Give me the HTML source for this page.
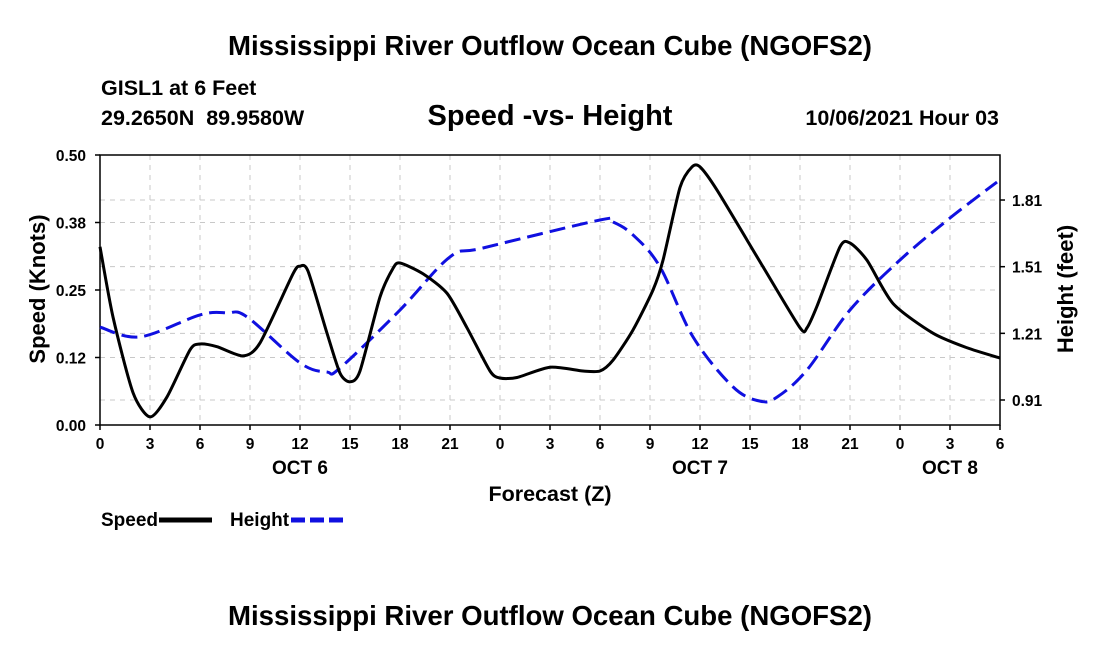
<!DOCTYPE html>
<html><head><meta charset="utf-8">
<style>
body{margin:0;background:#fff;width:1100px;height:650px;overflow:hidden;font-family:"Liberation Sans",sans-serif;}
svg text{font-family:"Liberation Sans",sans-serif;fill:#000;}
</style></head><body>
<svg id="chart" width="1100" height="650" viewBox="0 0 1100 650" xmlns="http://www.w3.org/2000/svg">
<text x="550" y="55" text-anchor="middle" font-size="27.6" font-weight="bold">Mississippi River Outflow Ocean Cube (NGOFS2)</text>
<text x="101" y="95" font-size="21.5" font-weight="bold">GISL1 at 6 Feet</text>
<text x="101" y="125" font-size="21.5" font-weight="bold" xml:space="preserve">29.2650N  89.9580W</text>
<text x="550" y="125" text-anchor="middle" font-size="29" font-weight="bold">Speed -vs- Height</text>
<text x="999" y="125" text-anchor="end" font-size="21.5" font-weight="bold">10/06/2021 Hour 03</text>
<g id="grid"></g>
<g id="axes"></g>
<g id="series"></g>
<text x="550" y="501" text-anchor="middle" font-size="21.5" font-weight="bold">Forecast (Z)</text>
<text transform="translate(45,289) rotate(-90)" text-anchor="middle" font-size="22" font-weight="bold">Speed (Knots)</text>
<text transform="translate(1073,289) rotate(-90)" text-anchor="middle" font-size="22" font-weight="bold">Height (feet)</text>
<g>
<text x="101" y="526" font-size="19" font-weight="bold">Speed</text>
<line x1="159" y1="520" x2="212" y2="520" stroke="#000" stroke-width="5"/>
<text x="230" y="526" font-size="19" font-weight="bold">Height</text>
<line x1="291" y1="520" x2="344" y2="520" stroke="#1010e0" stroke-width="5" stroke-dasharray="14,5"/>
</g>
<text x="550" y="625" text-anchor="middle" font-size="27.6" font-weight="bold">Mississippi River Outflow Ocean Cube (NGOFS2)</text>
</svg>
<script>
const xTickLabels=["0","3","6","9","12","15","18","21","0","3","6","9","12","15","18","21","0","3","6"];
const dayLabels=["OCT 6","OCT 7","OCT 8"];
const dayLabelHours=[12,36,51];
const speedTicks=[0,0.125,0.25,0.375,0.5];
const speedTickLabels=["0.00","0.12","0.25","0.38","0.50"];
const heightTicks=[0.91,1.21,1.51,1.81];
const heightTickLabels=["0.91","1.21","1.51","1.81"];
const speedHours=[0,0.78,1.98,3,4.02,5.4,6,7.02,8.58,9.6,11.58,12,12.48,13.62,14.4,15,15.6,16.8,17.58,18,19.38,20.82,22.02,23.4,24,25.02,27,28.98,30,30.78,31.98,33.18,33.78,34.8,35.52,36,37.02,39.78,42,42.42,43.02,44.4,45,46.02,47.58,49.98,52.02,54];
const speedValues=[0.33,0.2,0.06,0.015,0.052,0.139,0.15,0.145,0.128,0.152,0.28,0.294,0.285,0.17,0.096,0.08,0.10,0.237,0.29,0.30,0.28,0.244,0.18,0.10,0.087,0.088,0.107,0.1,0.10,0.12,0.176,0.25,0.305,0.44,0.478,0.478,0.435,0.293,0.18,0.18,0.22,0.33,0.337,0.305,0.225,0.17,0.143,0.124];
const heightHours=[0,2.4,6,7.62,8.82,12,13.62,14.4,18,21,22.98,30,30.78,31.98,33.6,35.58,37.98,39.6,40.62,42.42,45,48,51,53.82];
const heightValues=[1.238,1.194,1.293,1.302,1.284,1.077,1.036,1.054,1.315,1.554,1.594,1.720,1.711,1.653,1.509,1.194,0.969,0.905,0.923,1.045,1.315,1.54,1.729,1.891];

const L=100,R=1000,T=155,B=425;
const xs=h=>L+h*(R-L)/54;
const ys=v=>B-v/0.5*(B-T);
const yh=f=>400-(f-0.91)*222.2;
const NS="http://www.w3.org/2000/svg";
function mk(tag,attrs,parent){const e=document.createElementNS(NS,tag);for(const k in attrs)e.setAttribute(k,attrs[k]);parent.appendChild(e);return e;}
const grid=document.getElementById('grid'),axes=document.getElementById('axes'),series=document.getElementById('series');

xTickLabels.forEach((lab,i)=>{const x=xs(i*3);
 if(i>0&&i<xTickLabels.length-1){const g=mk('line',{x1:x,y1:T,x2:x,y2:B,stroke:'#c8c8c8','stroke-width':1,'stroke-dasharray':'5,5'},grid);
 
 }
 const tk=mk('line',{x1:x,y1:B,x2:x,y2:B+5,stroke:'#000','stroke-width':1.5},axes);
 
 
 const t=mk('text',{x:x,y:B+24,'text-anchor':'middle','font-size':15.5,'font-weight':'bold'},axes);t.textContent=lab;
 
 
});
dayLabels.forEach((d,i)=>{const t=mk('text',{x:xs(dayLabelHours[i]),y:B+49,'text-anchor':'middle','font-size':19,'font-weight':'bold'},axes);t.textContent=d;
 
 });
speedTicks.forEach((v,i)=>{const y=ys(v);
 if(i>0&&i<speedTicks.length-1){const g=mk('line',{x1:L,y1:y,x2:R,y2:y,stroke:'#c8c8c8','stroke-width':1,'stroke-dasharray':'5,5'},grid);
 
 }
 const tk=mk('line',{x1:L-5,y1:y,x2:L,y2:y,stroke:'#000','stroke-width':1.5},axes);
 
 
 const t=mk('text',{x:L-14,y:y+6,'text-anchor':'end','font-size':15.5,'font-weight':'bold'},axes);t.textContent=speedTickLabels[i];
 
 });
heightTicks.forEach((v,i)=>{const y=yh(v);
 const g=mk('line',{x1:L,y1:y,x2:R,y2:y,stroke:'#c8c8c8','stroke-width':1,'stroke-dasharray':'5,5'},grid);
 
 
 const tk=mk('line',{x1:R,y1:y,x2:R+5,y2:y,stroke:'#000','stroke-width':1.5},axes);
 
 
 const t=mk('text',{x:R+12,y:y+6,'text-anchor':'start','font-size':15.5,'font-weight':'bold'},axes);t.textContent=heightTickLabels[i];
 
 });
const frame=mk('rect',{x:L,y:T,width:R-L,height:B-T,fill:'none',stroke:'#000','stroke-width':1.5},axes);



function smooth(pts,k){let d=`M${pts[0][0]},${pts[0][1]}`;
 for(let i=0;i<pts.length-1;i++){const p0=pts[Math.max(0,i-1)],p1=pts[i],p2=pts[i+1],p3=pts[Math.min(pts.length-1,i+2)];
 d+=` C${p1[0]+(p2[0]-p0[0])/k},${p1[1]+(p2[1]-p0[1])/k} ${p2[0]-(p3[0]-p1[0])/k},${p2[1]-(p3[1]-p1[1])/k} ${p2[0]},${p2[1]}`;}
 return d;}
const hp=mk('path',{d:smooth(heightHours.map((h,i)=>[xs(h),yh(heightValues[i])]),6),fill:'none',stroke:'#1010e0','stroke-width':3,'stroke-dasharray':'16,7'},series);


const sp=mk('path',{d:smooth(speedHours.map((h,i)=>[xs(h),ys(speedValues[i])]),8),fill:'none',stroke:'#000','stroke-width':3},series);


</script>
</body></html>
